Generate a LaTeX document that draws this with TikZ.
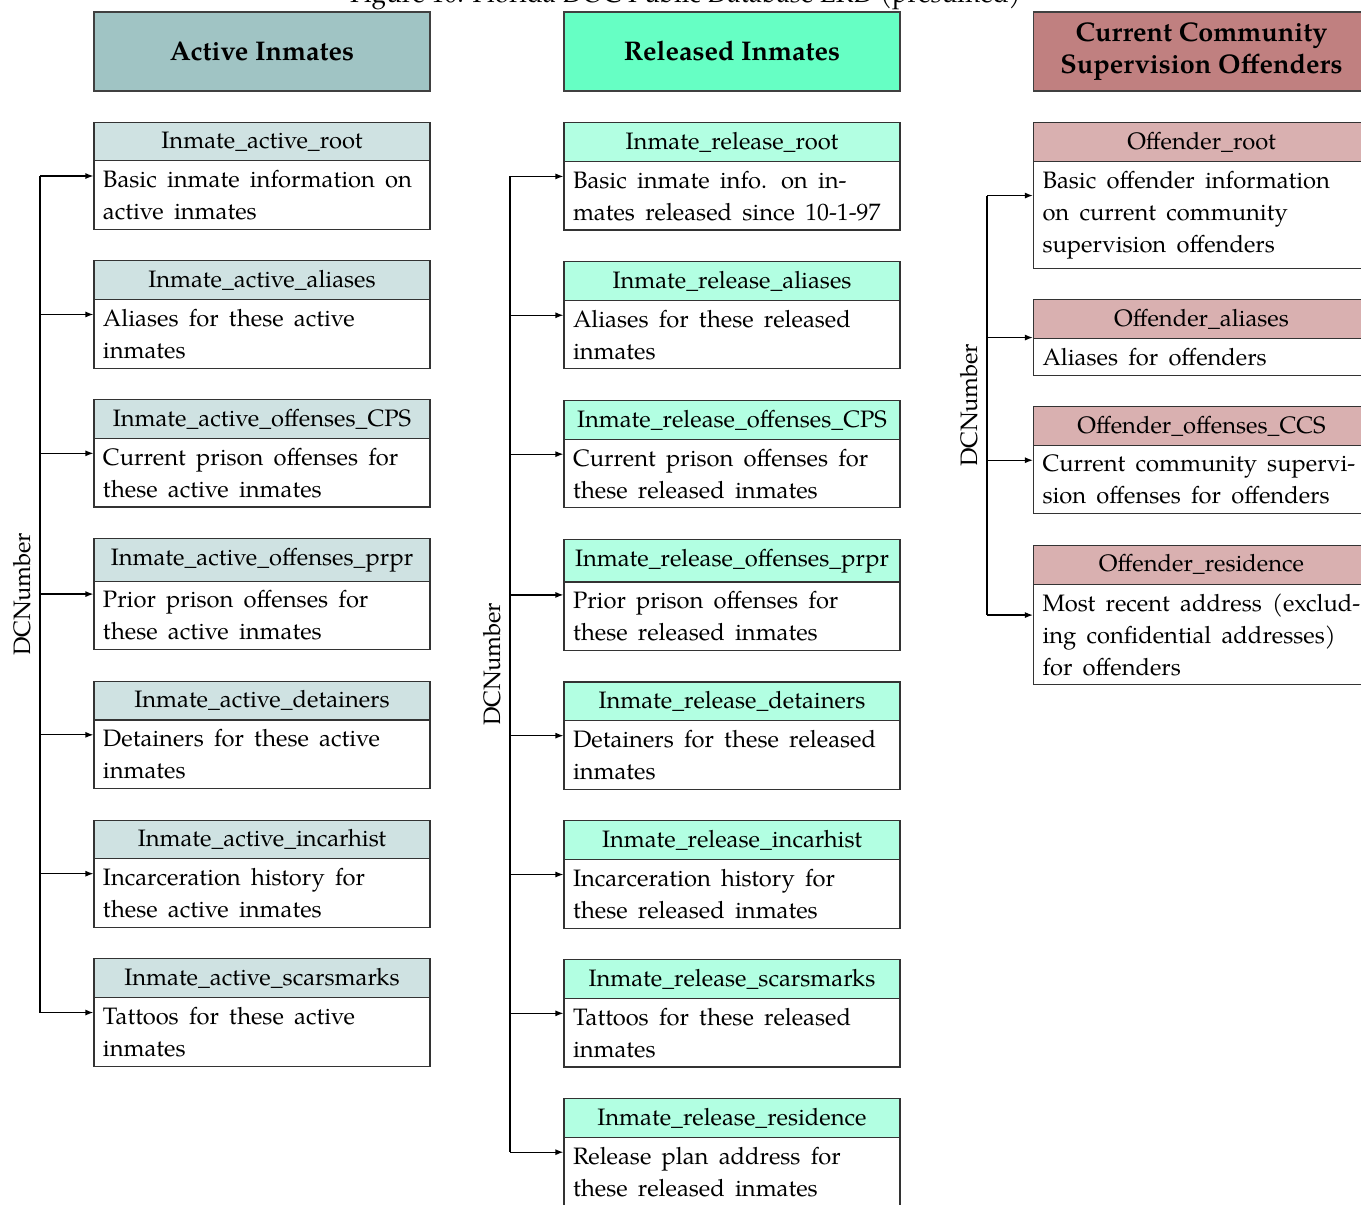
\documentclass[tikz,border=0pt]{standalone}
\usepackage{fontspec}
\setmainfont{TeX Gyre Pagella}
\usetikzlibrary{arrows.meta,positioning,shapes.multipart}
\definecolor{hdActive}{RGB}{160,196,196}
\definecolor{tbActive}{RGB}{207,226,226}
\definecolor{hdRelease}{RGB}{102,255,196}
\definecolor{tbRelease}{RGB}{178,255,226}
\definecolor{hdOffend}{RGB}{192,128,128}
\definecolor{tbOffend}{RGB}{217,176,176}
\newcommand{\bodyfont}{\fontsize{9.5}{12.8}\selectfont}
\newcommand{\tblhead}[1]{\hfill#1\hfill\null}
\newcommand{\tblbody}{\spaceskip=4.1pt\xspaceskip=5.6pt\relax}

\begin{document}
\begin{tikzpicture}[
    x=0.4pt, y=-0.4pt,
    >={Latex[length=3.2pt,width=2.4pt]},
    node distance=12.2pt,
    group/.style={draw=black!75, line width=0.6pt, minimum width=134.4pt, minimum height=31.6pt,
      align=center, font=\fontsize{10.8}{12.8}\selectfont\bfseries},
    tbl/.style={rectangle split, rectangle split parts=2, draw=black!80, line width=0.45pt,
      text width=127.2pt, inner xsep=3.6pt, inner ysep=3.5pt, align=left, font=\bodyfont},
    tblA/.style={tbl, rectangle split part fill={tbActive,white}},
    tblR/.style={tbl, rectangle split part fill={tbRelease,white}},
    tblO/.style={tbl, rectangle split part fill={tbOffend,white}},
    bus/.style={draw=black, line width=0.5pt},
    key/.style={rotate=90, anchor=south, font=\bodyfont},
  ]
  \useasboundingbox (0,0) rectangle (1361,1205);

  \node[font=\fontsize{10.45}{12.8}\selectfont, anchor=base] (title) at (685.5,3) {Figure 10: Florida DOC Public Database ERD (presumed)};

  %% ---------------- column heads ----------------
  \node[group, fill=hdActive] (hdA) at (262,51.5) {Active Inmates};
  \node[group, fill=hdRelease] (hdR) at (732,51.5) {Released Inmates};
  \node[group, fill=hdOffend] (hdO) at (1201.5,51.5) {Current Community\\Supervision Offenders};

  %% ---------------- active inmates ----------------
  \node[tblA, below=of hdA] (a1) {\tblhead{Inmate\_active\_root}
    \nodepart{two}\tblbody Basic inmate information on\\active inmates};
  \node[tblA, below=of a1] (a2) {\tblhead{Inmate\_active\_aliases}
    \nodepart{two}\tblbody Aliases for these active\\inmates};
  \node[tblA, below=of a2] (a3) {\tblhead{Inmate\_active\_offenses\_CPS}
    \nodepart{two}\tblbody Current prison offenses for\\these active inmates};
  \node[tblA, below=of a3] (a4) {\tblhead{Inmate\_active\_offenses\_prpr}
    \nodepart{two}\tblbody Prior prison offenses for\\these active inmates};
  \node[tblA, below=of a4] (a5) {\tblhead{Inmate\_active\_detainers}
    \nodepart{two}\tblbody Detainers for these active\\inmates};
  \node[tblA, below=of a5] (a6) {\tblhead{Inmate\_active\_incarhist}
    \nodepart{two}\tblbody Incarceration history for\\these active inmates};
  \node[tblA, below=of a6] (a7) {\tblhead{Inmate\_active\_scarsmarks}
    \nodepart{two}\tblbody Tattoos for these active\\inmates};

  %% ---------------- released inmates ----------------
  \node[tblR, below=of hdR] (r1) {\tblhead{Inmate\_release\_root}
    \nodepart{two}\tblbody Basic inmate info. on in-\\mates released since \mbox{10-1-97}};
  \node[tblR, below=of r1] (r2) {\tblhead{Inmate\_release\_aliases}
    \nodepart{two}\tblbody Aliases for these released\\inmates};
  \node[tblR, below=of r2] (r3) {\tblhead{Inmate\_release\_offenses\_CPS}
    \nodepart{two}\tblbody Current prison offenses for\\these released inmates};
  \node[tblR, below=of r3] (r4) {\tblhead{Inmate\_release\_offenses\_prpr}
    \nodepart{two}\tblbody Prior prison offenses for\\these released inmates};
  \node[tblR, below=of r4] (r5) {\tblhead{Inmate\_release\_detainers}
    \nodepart{two}\tblbody Detainers for these released\\inmates};
  \node[tblR, below=of r5] (r6) {\tblhead{Inmate\_release\_incarhist}
    \nodepart{two}\tblbody Incarceration history for\\these released inmates};
  \node[tblR, below=of r6] (r7) {\tblhead{Inmate\_release\_scarsmarks}
    \nodepart{two}\tblbody Tattoos for these released\\inmates};
  \node[tblR, below=of r7] (r8) {\tblhead{Inmate\_release\_residence}
    \nodepart{two}\tblbody Release plan address for\\these released inmates};

  %% ---------------- community supervision ----------------
  \node[tblO, below=of hdO] (o1) {\tblhead{Offender\_root}
    \nodepart{two}\tblbody Basic offender information\\on current community\\supervision offenders};
  \node[tblO, below=of o1] (o2) {\tblhead{Offender\_aliases}
    \nodepart{two}\tblbody Aliases for offenders};
  \node[tblO, below=of o2] (o3) {\tblhead{Offender\_offenses\_CCS}
    \nodepart{two}\tblbody Current community supervi-\\sion offenses for offenders};
  \node[tblO, below=of o3] (o4) {\tblhead{Offender\_residence}
    \nodepart{two}\tblbody Most recent address (exclud-\\ing confidential addresses)\\for offenders};

  %% ---------------- DCNumber links ----------------
  \coordinate (busA) at (40,0);
  \coordinate (busR) at (510,0);
  \coordinate (busO) at (987,0);

  \draw[bus] (busA |- a1.west) -- (busA |- a7.west)
    node[key, midway] (dcA) {DCNumber};
  \foreach \k in {1,...,7} \draw[bus, ->] (busA |- a\k.west) -- (a\k.west);

  \draw[bus] (busR |- r1.west) -- (busR |- r8.west)
    node[key, midway] (dcR) {DCNumber};
  \foreach \k in {1,...,8} \draw[bus, ->] (busR |- r\k.west) -- (r\k.west);

  \draw[bus] (busO |- o1.west) -- (busO |- o4.west)
    node[key, midway] (dcO) {DCNumber};
  \foreach \k in {1,...,4} \draw[bus, ->] (busO |- o\k.west) -- (o\k.west);

\end{tikzpicture}
\end{document}
